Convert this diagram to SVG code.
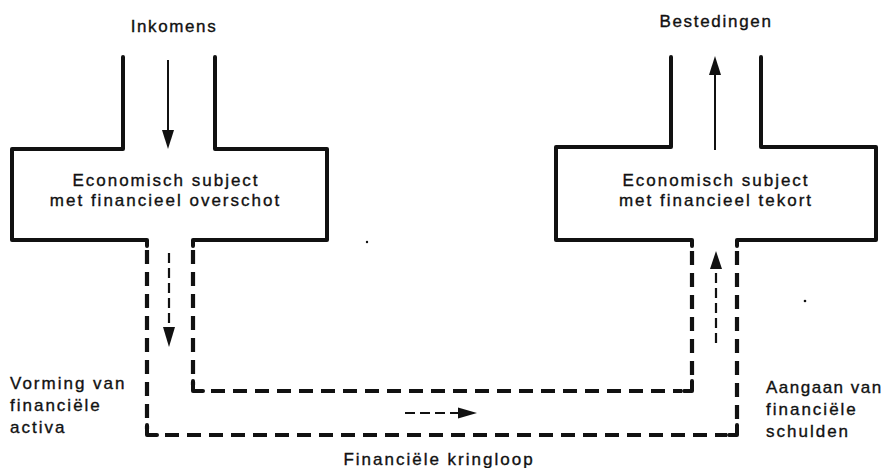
<svg xmlns="http://www.w3.org/2000/svg" width="886" height="468" viewBox="0 0 886 468">
  <style>
    .wall { fill: none; stroke: #111; stroke-width: 4; stroke-linejoin: round; stroke-linecap: round; }
    .flow { fill: none; stroke: #111; stroke-width: 4.2; stroke-dasharray: 14 8; stroke-linecap: butt; }
    .arrow { fill: none; stroke: #111; stroke-width: 2; }
    .arrow-dash { fill: none; stroke: #111; stroke-width: 2.2; stroke-dasharray: 10 5; }
    .head { fill: #111; stroke: none; }
    text { font-family: "Liberation Sans", Arial, sans-serif; font-size: 17px; fill: #111; stroke: #111; stroke-width: 0.35; letter-spacing: 2px; }
    .mid { text-anchor: middle; }
  </style>
  <rect width="886" height="468" fill="#fff"/>

  <g id="node-overschot">
    <path class="wall" d="M123,57 V149 H12 V240 H147 V246"/>
    <path class="wall" d="M215,57 V149 H327 V240 H193 V246"/>
    <text class="mid" x="166" y="186">Economisch subject</text>
    <text class="mid" x="165.5" y="206">met financieel overschot</text>
  </g>

  <g id="node-tekort">
    <path class="wall" d="M671,57 V147 H556 V240 H692 V246"/>
    <path class="wall" d="M761,57 V147 H876 V240 H737 V246"/>
    <text class="mid" x="716" y="186">Economisch subject</text>
    <text class="mid" x="716" y="206">met financieel tekort</text>
  </g>

  <g id="connectors">
    <!-- financial circuit channel -->
    <path class="flow" d="M147,250 V429"/>
    <path class="wall" d="M147,425 V435 H157"/>
    <path class="flow" d="M165,435 H727"/>
    <path class="wall" d="M729,435 H737 V425"/>
    <path class="flow" d="M737,419 V250"/>
    <path class="flow" d="M193,250 V385"/>
    <path class="wall" d="M193,381 V391 H203"/>
    <path class="flow" d="M211,391 H682"/>
    <path class="wall" d="M684,391 H692 V381"/>
    <path class="flow" d="M692,375 V250"/>

    <!-- Inkomens arrow -->
    <line class="arrow" x1="168" y1="60" x2="168" y2="132"/>
    <polygon class="head" points="162,130 174,130 168,149"/>
    <!-- Bestedingen arrow -->
    <line class="arrow" x1="715" y1="150" x2="715" y2="72"/>
    <polygon class="head" points="709,75 721,75 715,56"/>
    <!-- dashed down arrow -->
    <line class="arrow-dash" x1="169" y1="253" x2="169" y2="329"/>
    <polygon class="head" points="163,327 175,327 169,347"/>
    <!-- dashed up arrow -->
    <line class="arrow-dash" x1="716" y1="343" x2="716" y2="268"/>
    <polygon class="head" points="710,269 722,269 716,251"/>
    <!-- dashed right arrow -->
    <line class="arrow-dash" x1="405" y1="413" x2="459" y2="413"/>
    <polygon class="head" points="458,407.5 458,418.5 477,413"/>
  </g>

  <g id="labels">
    <text class="mid" x="174" y="32" style="letter-spacing:1.6px">Inkomens</text>
    <text class="mid" x="716" y="27" style="letter-spacing:1.7px">Bestedingen</text>
    <text x="10" y="389">Vorming van</text>
    <text x="10" y="411">financiële</text>
    <text x="10" y="433">activa</text>
    <text x="766" y="393" style="letter-spacing:1.5px">Aangaan van</text>
    <text x="766" y="415">financiële</text>
    <text x="766" y="437">schulden</text>
    <text class="mid" x="439" y="465">Financiële kringloop</text>
  </g>

  <g id="specks">
    <circle cx="367" cy="242" r="1.2" fill="#111"/>
    <circle cx="805" cy="301" r="1.3" fill="#111"/>
  </g>
</svg>
